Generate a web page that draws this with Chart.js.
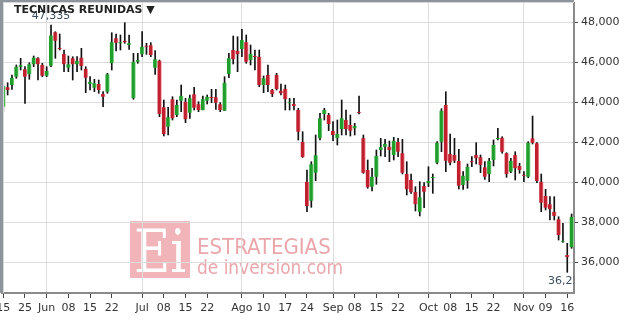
<!DOCTYPE html>
<html>
<head>
<meta charset="utf-8">
<style>
  html, body { margin: 0; padding: 0; background: #fff; }
  #wrap { width: 626px; height: 322px; }
</style>
</head>
<body>
<div id="wrap"><canvas id="chart" width="626" height="322"></canvas></div>
<script src="https://cdn.jsdelivr.net/npm/chart.js@4.4.0/dist/chart.umd.min.js"></script>
<script>
// daily OHLC, one entry per trading day
const opens = [
  43780, 44750, 44865, 45280, 45780, 45650, 45400, 45900, 46200, 45865,
  45330, 45830, 47500, 46700, 46415, 45730, 46200, 45900, 46230, 45665,
  44915, 44730, 44915, 44415, 44530, 45950, 47200, 46950, 47080, 46865,
  44200, 46030, 46400, 46830, 46850, 45730, 46080, 43750, 42780, 44150,
  43365, 44080, 44030, 43480, 44400, 43900, 43615, 44080, 44250, 44250,
  43900, 43580, 45415, 46615, 46580, 46665, 47000, 46115, 46300, 46280,
  44865, 45365, 44615, 45365, 44580, 44680, 43950, 43915, 43615, 42015,
  40030, 39080, 40480, 42200, 43415, 43365, 42565, 42200, 42650, 43115,
  42865, 42700, 43500, 42200, 40615, 39780, 40280, 41615, 41780, 41780,
  41365, 42015, 41450, 40415, 40115, 39515, 38530, 39815, 39950, 40215,
  40980, 42030, 43865, 41415, 41365, 41065, 39865, 40080, 41030, 41365,
  41250, 40750, 40415, 41115, 42165, 42230, 41450, 40530, 41365, 40815,
  40365, 40280, 42200, 41950, 40030, 39315, 38900, 38530, 38150, 37030,
  36365, 36750
];
const highs = [
  44915, 44980, 45365, 45865, 46200, 45780, 45980, 46315, 46230, 45950,
  45780, 47865, 47530, 47415, 46615, 46315, 46280, 46280, 46700, 45780,
  45280, 45150, 45115, 44530, 45450, 47480, 47415, 47365, 47980, 47365,
  46450, 46450, 47530, 46950, 46980, 46580, 46115, 44115, 43750, 44280,
  44115, 44865, 44200, 44365, 44750, 44030, 44315, 44365, 44650, 44650,
  43980, 45280, 46450, 47315, 47280, 47650, 47365, 46865, 46615, 46615,
  45315, 45865, 44650, 45450, 44915, 44865, 44200, 44200, 43700, 42530,
  40615, 41030, 42365, 43450, 43700, 43450, 43030, 43115, 44115, 43615,
  43365, 42950, 44315, 42365, 41115, 40700, 41615, 42200, 42150, 42065,
  42250, 42200, 42150, 41030, 40415, 39780, 40030, 39980, 40780, 40415,
  42030, 43680, 44530, 42415, 42200, 41650, 40530, 40915, 41280, 41980,
  41365, 41030, 41200, 42115, 42700, 42280, 41480, 41200, 41530, 40950,
  40530, 42030, 43315, 41980, 40415, 39650, 39280, 39280, 38280, 37950,
  36950, 38415
];
const lows = [
  43530, 44365, 44650, 45200, 45615, 43950, 45150, 45780, 45115, 45280,
  45280, 45780, 46200, 46615, 45530, 45530, 45115, 45530, 45615, 44480,
  44615, 44530, 44450, 43780, 44450, 45615, 46565, 46615, 46950, 46650,
  44150, 45950, 46280, 46400, 46280, 45400, 43280, 42315, 42365, 43115,
  43280, 43530, 42980, 43200, 43615, 43530, 43615, 43915, 43980, 43650,
  43530, 43580, 45230, 45915, 45530, 46280, 45950, 45865, 45615, 44780,
  44480, 44530, 44280, 44615, 44365, 43615, 43615, 43615, 42115, 41250,
  38530, 38750, 40080, 42115, 43115, 42580, 42080, 41865, 42365, 42365,
  42315, 42365, 43415, 40450, 39700, 39565, 39900, 41315, 41280, 41030,
  41115, 41280, 40415, 39365, 39450, 38565, 38315, 38730, 39780, 39450,
  40915, 41530, 40530, 40865, 40980, 39665, 39650, 39700, 40780, 40915,
  40480, 40150, 40030, 40815, 42115, 41450, 40250, 40480, 40115, 40450,
  40030, 40230, 41915, 39980, 38530, 38615, 38115, 38115, 37115, 37000,
  35500, 36700
];
const closes = [
  44815, 44615, 45230, 45780, 45850, 45280, 45900, 46230, 45900, 45330,
  45565, 47335, 47080, 46665, 45900, 45900, 45900, 46080, 45815, 45230,
  45030, 44950, 44615, 44280, 45400, 47000, 46980, 46980, 47000, 46950,
  46030, 46115, 46780, 46780, 46365, 46150, 43415, 42415, 43250, 43200,
  43865, 44330, 43150, 44200, 43730, 43615, 44150, 44280, 44215, 43980,
  43615, 44980, 46200, 46150, 46400, 47115, 46030, 46415, 46265, 44865,
  45200, 44865, 44400, 44665, 44450, 44150, 43980, 43815, 42530, 41250,
  38815, 40900, 41350, 43200, 43615, 42915, 42365, 42415, 43200, 42665,
  42580, 42815, 43465, 40480, 39750, 40280, 41315, 41750, 41915, 41615,
  42080, 41530, 40480, 39650, 39500, 38900, 39250, 39530, 40065, 40250,
  41980, 43580, 41080, 40980, 41080, 39830, 40330, 40780, 41000, 41200,
  40865, 40280, 41080, 41865, 42200, 41530, 40415, 41080, 40700, 40615,
  40330, 41980, 41980, 40065, 38980, 38730, 38650, 38315, 37365, 37065,
  36250, 38280
];

// x axis labels: which trading day gets which label
const tickIdx  = [0, 5, 10, 15, 20, 25, 32, 37, 42, 47, 55, 60, 65, 70, 76, 81, 86, 91, 98, 103, 108, 113, 120, 125, 130];
const tickText = ['15', '25', 'Jun', '08', '15', '22', 'Jul', '08', '15', '22', 'Ago', '10', '17', '24', 'Sep', '08', '15', '22', 'Oct', '08', '15', '22', 'Nov', '09', '16'];
const monthIdx = [10, 32, 55, 76, 98, 120];
const yTicks = [36000, 38000, 40000, 42000, 44000, 46000, 48000];

const UP = '#1f9e2c', UP_EDGE = '#86d98f';
const DOWN = '#c0202e', DOWN_EDGE = '#f2929a';
const FONT = '"DejaVu Sans", Verdana, sans-serif';
const fmt = v => v.toLocaleString('en-US');

const isUp = i => closes[i] >= opens[i];

const decor = {
  id: 'decor',
  beforeDraw(chart) {
    const c = chart.ctx;
    c.save();
    // watermark
    c.fillStyle = '#f0b4b9';
    c.fillRect(130, 221, 60, 57);
    c.fillStyle = '#ffffff';
    c.font = '60px "DejaVu Serif", "Liberation Serif", serif';
    c.textBaseline = 'alphabetic';
    c.fillText('Ei', 134, 272, 52);
    c.fillStyle = '#eba6ac';
    c.font = '22px "DejaVu Sans Condensed", "DejaVu Sans", sans-serif';
    c.fillText('ESTRATEGIAS', 197, 254, 146);
    c.font = '19px "DejaVu Sans Condensed", "DejaVu Sans", sans-serif';
    c.fillText('de inversion.com', 197, 274, 146);
    c.restore();
  },
  afterDraw(chart) {
    const c = chart.ctx;
    const a = chart.chartArea;
    const xs = chart.scales.x, ys = chart.scales.y;
    c.save();
    // frame shading
    c.fillStyle = '#8d949c';
    c.fillRect(0, 0, a.right, 2);
    c.fillRect(0, 0, 3, a.bottom);
    c.fillStyle = '#d6d9dc';
    c.fillRect(3, 2, 1, a.bottom - 2);
    c.fillRect(3, 2, a.right - 3, 1);

    // max / min close labels
    let hi = 0, lo = 0;
    closes.forEach((v, i) => { if (v > closes[hi]) hi = i; if (v < closes[lo]) lo = i; });
    c.beginPath();
    c.rect(a.left, a.top, a.right - a.left, a.bottom - a.top);
    c.clip();
    c.font = '11px ' + FONT;
    c.fillStyle = '#3b4d5e';
    c.textAlign = 'center';
    c.textBaseline = 'middle';
    c.fillText(fmt(closes[hi]), xs.getPixelForValue(hi), ys.getPixelForValue(highs[hi]) - 9);
    c.fillText(fmt(closes[lo]), xs.getPixelForValue(lo), ys.getPixelForValue(lows[lo]) + 9);
    c.restore();

    // title
    c.save();
    c.font = 'bold 11px ' + FONT;
    c.fillStyle = '#222';
    c.textBaseline = 'alphabetic';
    c.fillText('TECNICAS REUNIDAS \u25BC', 14, 13);
    c.restore();
  }
};

new Chart(document.getElementById('chart'), {
  type: 'bar',
  data: {
    datasets: [
      {
        label: 'body',
        data: closes.map((v, i) => ({ x: i, y: [opens[i], v] })),
        backgroundColor: ctx => isUp(ctx.dataIndex) ? UP : DOWN,
        borderColor: ctx => isUp(ctx.dataIndex) ? UP_EDGE : DOWN_EDGE,
        borderWidth: { left: 0, right: 1, top: 0, bottom: 0 },
        borderSkipped: false,
        barThickness: 4,
        minBarLength: 1,
        grouped: false,
        order: 0
      },
      {
        label: 'wick',
        data: lows.map((v, i) => ({ x: i, y: [v, highs[i]] })),
        backgroundColor: '#111',
        barThickness: 1,
        grouped: false,
        order: 1
      }
    ]
  },
  options: {
    responsive: false,
    animation: false,
    layout: { padding: { left: 2, top: 3, right: 0, bottom: 0 } },
    plugins: { legend: { display: false }, tooltip: { enabled: false } },
    scales: {
      x: {
        type: 'linear',
        offset: false,
        min: -0.3,
        max: 131.55,
        afterBuildTicks: s => { s.ticks = tickIdx.map(v => ({ value: v })); },
        afterFit: s => { s.height = 29; s.paddingLeft = 0; s.paddingRight = 0; },
        grid: {
          offset: false,
          color: ctx => (ctx.tick && monthIdx.includes(ctx.tick.value)) ? '#dcdcdc' : 'rgba(0,0,0,0)',
          tickColor: '#444',
          tickLength: 5
        },
        border: { color: '#8a8a8a', width: 2 },
        ticks: {
          autoSkip: false,
          maxRotation: 0,
          minRotation: 0,
          padding: 4,
          color: '#333',
          font: { family: FONT, size: 11 },
          callback: (v, i) => tickText[i]
        }
      },
      y: {
        position: 'right',
        min: 34465,
        max: 48965,
        afterBuildTicks: s => { s.ticks = yTicks.map(v => ({ value: v })); },
        afterFit: s => { s.width = 52; s.paddingTop = 0; s.paddingBottom = 0; },
        grid: { color: '#dcdcdc', tickColor: '#444', tickLength: 4 },
        border: { color: '#8a8a8a', width: 2 },
        ticks: {
          padding: 3,
          color: '#333',
          font: { family: FONT, size: 11 },
          callback: v => fmt(v)
        }
      }
    }
  },
  plugins: [decor]
});
</script>
</body>
</html>
